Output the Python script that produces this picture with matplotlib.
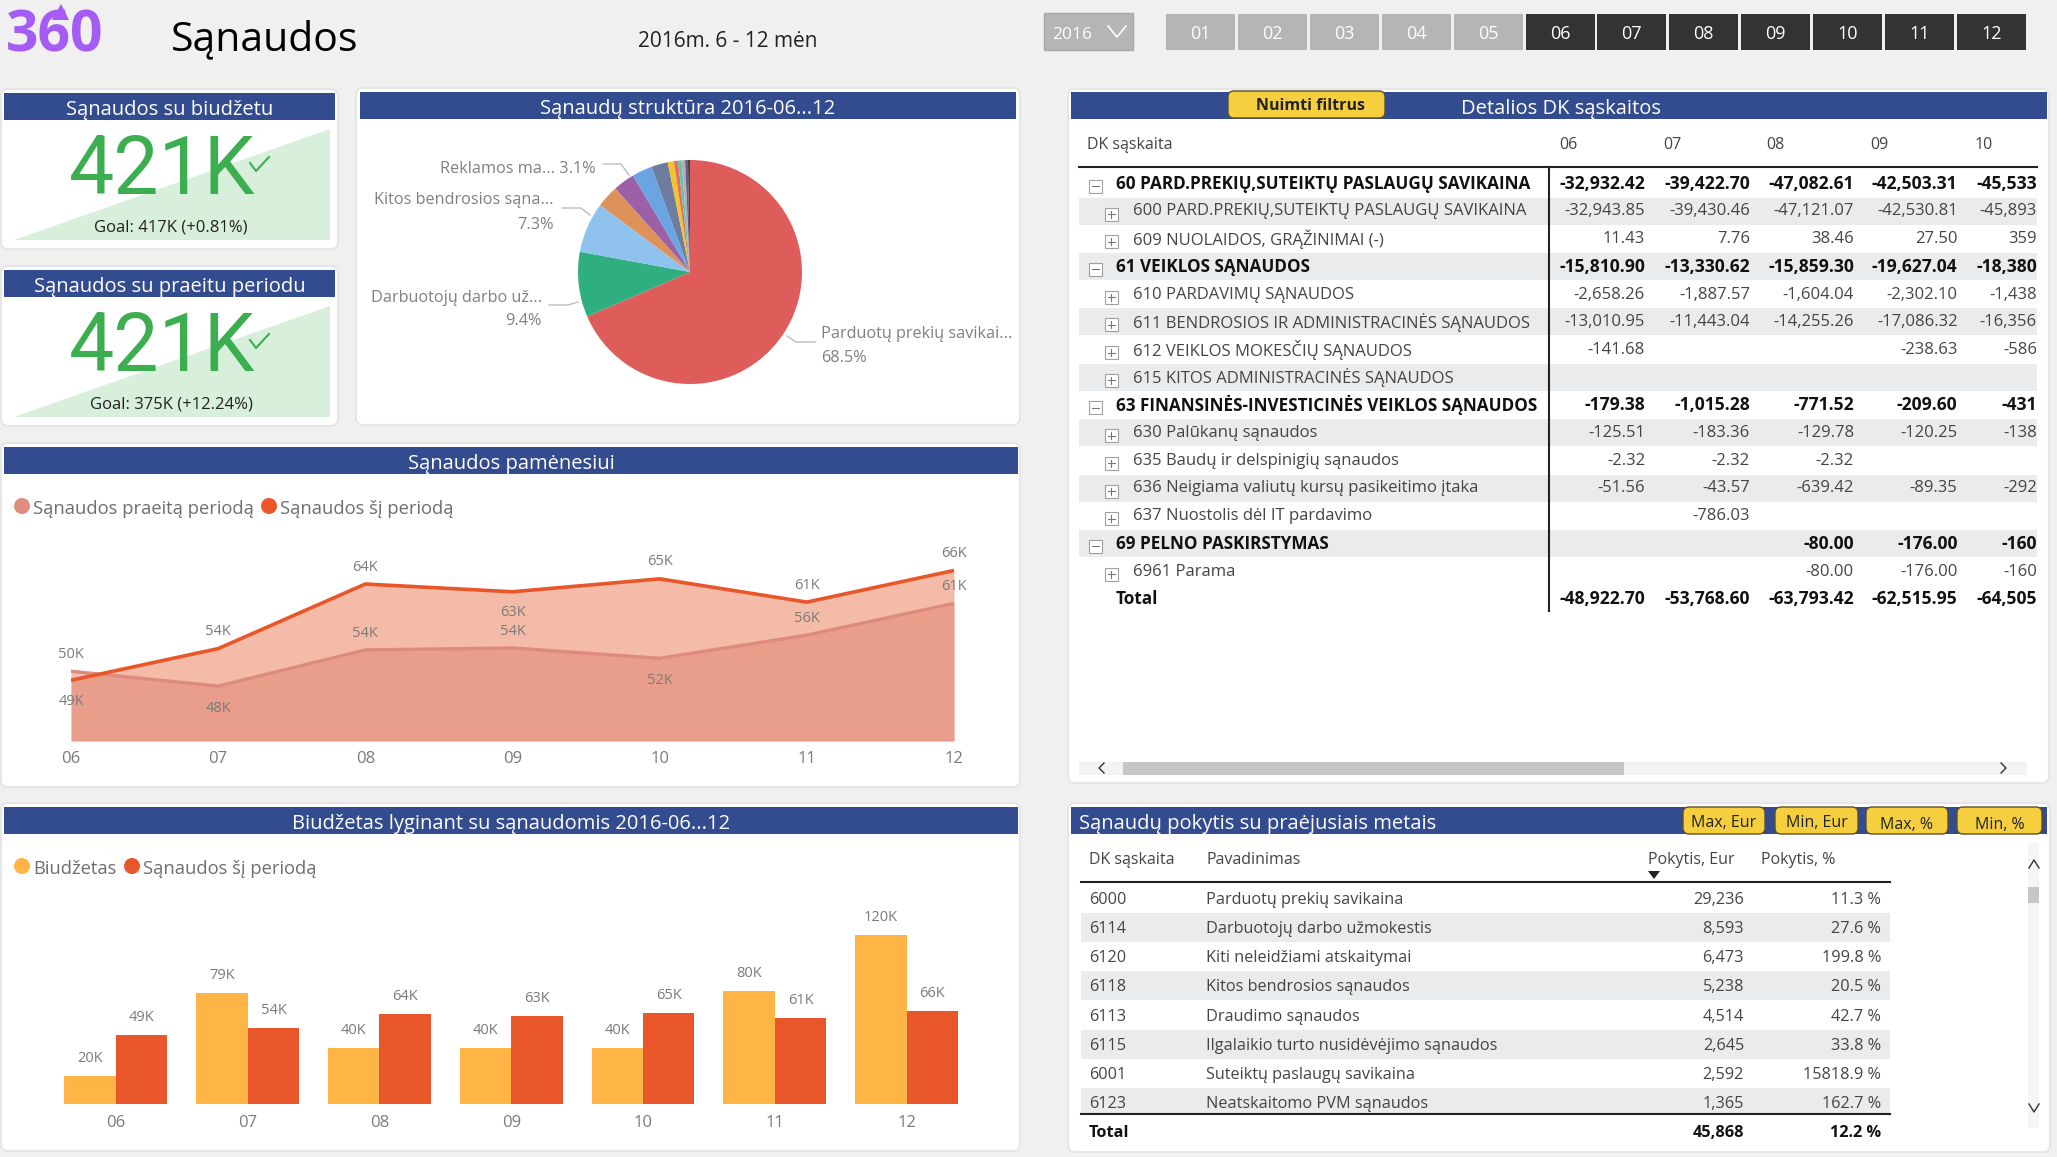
import matplotlib
matplotlib.use('Agg')
import matplotlib.pyplot as plt
from matplotlib.patches import FancyBboxPatch, Rectangle, Circle, Polygon

W, H = 2057, 1157
FONT = 'Open Sans'
BLUE = '#334B8F'
GREY_TXT = '#7A7A7A'
DARK_TXT = '#333333'
YELLOW = '#F6CF3F'

months = ['06', '07', '08', '09', '10', '11', '12']
all_months = ['01', '02', '03', '04', '05', '06', '07', '08', '09', '10', '11', '12']
active_months = ['06', '07', '08', '09', '10', '11', '12']

# pie
pie_names = ['Parduotų prekių savikaina', 'Darbuotojų darbo užmokestis', 'Kitos bendrosios sąnaudos',
             'Kita 1', 'Reklamos marketingas', 'Kita 2', 'Kita 3', 'Kita 4', 'Kita 5', 'Kita 6', 'Kita 7', 'Kita 8',
             'Kita 9']
pie_values = [68.5, 9.4, 7.3, 3.2, 3.1, 2.9, 2.4, 0.9, 0.6, 0.5, 0.5, 0.4, 0.3]
pie_colors = ['#DE5C5A', '#2FAF80', '#8FC3EE', '#DE9159', '#9B60A6', '#6BA4E3', '#6C7DA0', '#F2C230',
              '#E2725B', '#5FC4B8', '#B0B0B0', '#6D5A8C', '#444444']

# monthly area chart
cost_now = [48.9, 53.8, 63.8, 62.6, 64.6, 61.0, 65.9]
cost_prev = [50.3, 48.0, 53.6, 53.9, 52.3, 55.9, 60.8]
# budget bars
budget = [20, 79, 40, 40, 40, 80, 120]

# detail table
dk_labels = ['60 PARD.PREKIŲ,SUTEIKTŲ PASLAUGŲ SAVIKAINA', '600 PARD.PREKIŲ,SUTEIKTŲ PASLAUGŲ SAVIKAINA',
             '609 NUOLAIDOS, GRĄŽINIMAI (-)', '61 VEIKLOS SĄNAUDOS', '610 PARDAVIMŲ SĄNAUDOS',
             '611 BENDROSIOS IR ADMINISTRACINĖS SĄNAUDOS', '612 VEIKLOS MOKESČIŲ SĄNAUDOS',
             '615 KITOS ADMINISTRACINĖS SĄNAUDOS', '63 FINANSINĖS-INVESTICINĖS VEIKLOS SĄNAUDOS',
             '630 Palūkanų sąnaudos', '635 Baudų ir delspinigių sąnaudos', '636 Neigiama valiutų kursų pasikeitimo įtaka',
             '637 Nuostolis dėl IT pardavimo', '69 PELNO PASKIRSTYMAS', '6961 Parama', 'Total']
dk_bold = [1, 0, 0, 1, 0, 0, 0, 0, 1, 0, 0, 0, 0, 1, 0, 2]
dk_06 = ['-32,932.42', '-32,943.85', '11.43', '-15,810.90', '-2,658.26', '-13,010.95', '-141.68', '', '-179.38',
         '-125.51', '-2.32', '-51.56', '', '', '', '-48,922.70']
dk_07 = ['-39,422.70', '-39,430.46', '7.76', '-13,330.62', '-1,887.57', '-11,443.04', '', '', '-1,015.28',
         '-183.36', '-2.32', '-43.57', '-786.03', '', '', '-53,768.60']
dk_08 = ['-47,082.61', '-47,121.07', '38.46', '-15,859.30', '-1,604.04', '-14,255.26', '', '', '-771.52',
         '-129.78', '-2.32', '-639.42', '', '-80.00', '-80.00', '-63,793.42']
dk_09 = ['-42,503.31', '-42,530.81', '27.50', '-19,627.04', '-2,302.10', '-17,086.32', '-238.63', '', '-209.60',
         '-120.25', '', '-89.35', '', '-176.00', '-176.00', '-62,515.95']
dk_10 = ['-45,533', '-45,893', '359', '-18,380', '-1,438', '-16,356', '-586', '', '-431',
         '-138', '', '-292', '', '-160', '-160', '-64,505']

# change table
ch_codes = ['6000', '6114', '6120', '6118', '6113', '6115', '6001', '6123']
ch_names = ['Parduotų prekių savikaina', 'Darbuotojų darbo užmokestis', 'Kiti neleidžiami atskaitymai',
            'Kitos bendrosios sąnaudos', 'Draudimo sąnaudos', 'Ilgalaikio turto nusidėvėjimo sąnaudos',
            'Suteiktų paslaugų savikaina', 'Neatskaitomo PVM sąnaudos']
ch_eur = ['29,236', '8,593', '6,473', '5,238', '4,514', '2,645', '2,592', '1,365']
ch_pct = ['11.3 %', '27.6 %', '199.8 %', '20.5 %', '42.7 %', '33.8 %', '15818.9 %', '162.7 %']

fig = plt.figure(figsize=(W / 100, H / 100), dpi=100, facecolor='#F0F0F0')
bg = fig.add_axes([0, 0, 1, 1])
bg.set_xlim(0, W)
bg.set_ylim(H, 0)
bg.axis('off')


def add_ax(x0, y0, x1, y1):
    ax = fig.add_axes([x0 / W, 1 - y1 / H, (x1 - x0) / W, (y1 - y0) / H])
    ax.patch.set_alpha(0)
    return ax


def txt(x, y, s, size=11.5, color=DARK_TXT, ha='left', weight='normal', family=FONT):
    # va center sits a bit high for this font, so push down with the size
    bg.text(x, y + size * 0.16, s, fontsize=size, color=color, ha=ha, va='center', fontweight=weight, family=family)


def panel(x0, y0, x1, y1):
    bg.add_patch(FancyBboxPatch((x0 + 5, y0 + 5), x1 - x0 - 10, y1 - y0 - 10, boxstyle='round,pad=5,rounding_size=7',
                                fc='white', ec='#E6E6E6', lw=1.5))


def header(x0, y0, x1, y1, title, title_x=None):
    bg.add_patch(Rectangle((x0, y0), x1 - x0, y1 - y0, fc=BLUE, ec='none'))
    if title_x is None:
        txt((x0 + x1) / 2, (y0 + y1) / 2 + 1, title, 14.5, 'white', 'center')
    else:
        txt(title_x, (y0 + y1) / 2 + 1, title, 14.5, 'white', 'left')


def button(x0, y0, x1, y1, s, weight='normal', text_y=None, text_x=None):
    bg.add_patch(FancyBboxPatch((x0 + 5, y0 + 4), x1 - x0 - 10, y1 - y0 - 8, boxstyle='round,pad=4,rounding_size=6',
                                fc=YELLOW, ec='#5A5030', lw=1))
    txt(text_x or (x0 + x1) / 2, text_y or (y0 + y1) / 2, s, 11.5, '#222222', 'center', weight)


def legend_item(x, y, s, color):
    bg.add_patch(Circle((x, y), 8, fc=color, ec='none'))
    txt(x + 11, y + 1, s, 13.2, '#6E6E6E')


# top strip
txt(6, 30, '360', 41, '#A45CF5', weight='bold')
bg.add_patch(Polygon([[52, 20], [69, 20], [61, 4]], fc='#A45CF5', ec='none'))
txt(171, 35, 'Sąnaudos', 29.5, 'black')
txt(728, 39, '2016m. 6 - 12 mėn', 15, '#222222', 'center')

bg.add_patch(Rectangle((1044, 13), 89, 37, fc='#B5B5B5', ec='#A8A8A8', lw=1))
txt(1052, 33, '2016', 12.5, 'white')
bg.plot([1108, 1117, 1126], [26, 37, 26], color='white', lw=1.2)
for i, m in enumerate(all_months):
    x = 1166 + i * 71.9
    c = '#333333' if m in active_months else '#B5B5B5'
    bg.add_patch(Rectangle((x, 14), 69, 36, fc=c, ec='none'))
    txt(x + 34.5, 32, m, 13, 'white', 'center')

# KPI cards
for y_off, title, goal in [(0, 'Sąnaudos su biudžetu', 'Goal: 417K (+0.81%)'),
                           (177, 'Sąnaudos su praeitu periodu', 'Goal: 375K (+12.24%)')]:
    panel(1, 89 + y_off, 338, 249 + y_off)
    header(4, 93 + y_off, 335, 120 + y_off, title)
    bg.add_patch(Polygon([[14, 240 + y_off], [330, 240 + y_off], [330, 129 + y_off]], fc='#D7EFDB', ec='none'))
    bg.text(162, 172 + y_off, '421K', fontsize=58, color='#3DAE50', ha='center', va='center', family='Roboto')
    bg.plot([250, 256, 269], [163 + y_off, 171 + y_off, 157 + y_off], color='#3DAE50', lw=1.5)
    txt(171, 226 + y_off, goal, 12, '#222222', 'center')

# pie
panel(356, 88, 1020, 425)
header(360, 92, 1016, 119, 'Sąnaudų struktūra 2016-06...12')
ax_pie = add_ax(578, 160, 802, 384)
ax_pie.pie(pie_values, colors=pie_colors, startangle=90, counterclock=False, radius=1,
           wedgeprops=dict(edgecolor='none'))
ax_pie.set_xlim(-1, 1)
ax_pie.set_ylim(-1, 1)

txt(596, 167, 'Reklamos ma... 3.1%', 11.7, '#808080', 'right')
txt(554, 198, 'Kitos bendrosios sąna...', 11.7, '#808080', 'right')
txt(554, 223, '7.3%', 11.7, '#808080', 'right')
txt(542, 296, 'Darbuotojų darbo už...', 11.7, '#808080', 'right')
txt(542, 319, '9.4%', 11.7, '#808080', 'right')
txt(821, 332, 'Parduotų prekių savikai...', 11.7, '#808080')
txt(821, 356, '68.5%', 11.7, '#808080')
for xs, ys in [([603, 621, 629], [164, 164, 175]), ([562, 581, 590], [208, 208, 215]),
               ([549, 568, 578], [305, 305, 302]), ([815, 796, 787], [342, 342, 336])]:
    bg.plot(xs, ys, color='#BDBDBD', lw=1)

# area chart
panel(1, 443, 1020, 787)
header(4, 447, 1018, 474, 'Sąnaudos pamėnesiui')
legend_item(22, 506, 'Sąnaudos praeitą periodą', '#E08D80')
legend_item(269, 506, 'Sąnaudos šį periodą', '#E8562A')
ax_line = add_ax(71, 541, 954, 741)
xpos = list(range(len(months)))
ax_line.fill_between(xpos, 39.5, cost_now, color='#E8562A', alpha=0.4, lw=0)
ax_line.fill_between(xpos, 39.5, cost_prev, color='#DE826E', alpha=0.5, lw=0)
ax_line.plot(xpos, cost_prev, color='#DE8A7C', lw=2.4, solid_capstyle='butt')
ax_line.plot(xpos, cost_now, color='#E8562A', lw=2.6, solid_capstyle='butt')
ax_line.set_xlim(0, 6)
ax_line.set_ylim(39.5, 39.5 + 200 / 6.46)
ax_line.set_yticks([])
ax_line.set_xticks(xpos, months, fontsize=12, color=GREY_TXT, family=FONT)
ax_line.tick_params(axis='x', length=0, pad=7)
for s in ax_line.spines.values():
    s.set_visible(False)
now_dy = [21, -17, -17, 21, -17, -17, -17]
prev_dy = [-17, 22, -16, -16, 22, -17, -17]
for i in xpos:
    ax_line.annotate(f'{round(cost_now[i])}K', (i, cost_now[i]), xytext=(0, -now_dy[i] * 0.72), textcoords='offset points',
                     ha='center', va='center', fontsize=10.5, color=GREY_TXT, family=FONT, annotation_clip=False)
    ax_line.annotate(f'{round(cost_prev[i])}K', (i, cost_prev[i]), xytext=(0, -prev_dy[i] * 0.72), textcoords='offset points',
                     ha='center', va='center', fontsize=10.5, color=GREY_TXT, family=FONT, annotation_clip=False)

# bar chart
panel(1, 803, 1020, 1151)
header(4, 807, 1018, 834, 'Biudžetas lyginant su sąnaudomis 2016-06...12')
legend_item(22, 866, 'Biudžetas', '#FFB545')
legend_item(132, 866, 'Sąnaudos šį periodą', '#E8562A')
ax_bar = add_ax(50, 894, 972.5, 1104)
bw = 0.39
b1 = ax_bar.bar([i - bw / 2 for i in xpos], budget, bw, color='#FFB545')
b2 = ax_bar.bar([i + bw / 2 for i in xpos], cost_now, bw, color='#E8562A')
ax_bar.set_xlim(-0.5, 6.5)
ax_bar.set_ylim(0, 210 / 1.41)
ax_bar.set_yticks([])
ax_bar.set_xticks(xpos, months, fontsize=12, color=GREY_TXT, family=FONT)
ax_bar.tick_params(axis='x', length=0, pad=8)
for s in ax_bar.spines.values():
    s.set_visible(False)
for bars in (b1, b2):
    ax_bar.bar_label(bars, labels=[f'{round(b.get_height())}K' for b in bars], padding=7, fontsize=10.5,
                     color=GREY_TXT, family=FONT)

# detail table
panel(1068, 89, 2049, 783)
header(1071, 92, 2047, 119, '')
txt(1561, 106.5, 'Detalios DK sąskaitos', 14.5, 'white', 'center')
button(1227, 91, 1386, 118, 'Nuimti filtrus', 'bold', text_x=1310)
txt(1087, 143, 'DK sąskaita', 11.5, '#444444')
dk_cols = [dk_06, dk_07, dk_08, dk_09, dk_10]
col_right = [1645, 1750, 1854, 1957.5, 2037]
for m, x in zip(months, [1559, 1663, 1766, 1870, 1975]):
    txt(x, 143, m, 11.5, '#444444')
bg.plot([1079, 2037], [167, 167], color='#222222', lw=1.5)
for r, label in enumerate(dk_labels):
    y = 183.3 + r * 27.7
    if r % 2 == 1 and r < 15:
        bg.add_patch(Rectangle((1079, y - 13.5), 958, 27, fc='#E9EBED', ec='none'))
    bold = dk_bold[r]
    if bold == 0:
        bx = 1111
        txt(1133, y - 1.5, label, 12, '#444444')
    else:
        bx = 1095
        txt(1116, y - 1.5, label, 12.3, '#111111', weight='bold')
    if bold != 2:
        bg.add_patch(Rectangle((bx - 6.5, y - 3.5), 13, 13, fc='white', ec='#A0A0A0', lw=0.8))
        bg.plot([bx - 3.5, bx + 3.5], [y + 3, y + 3], color='#777777', lw=0.8)
        if bold == 0:
            bg.plot([bx, bx], [y - 0.5, y + 6.5], color='#777777', lw=0.8)
    for col, x in zip(dk_cols, col_right):
        if col[r]:
            txt(x, y - 1.5, col[r], 12.6 if bold else 12, '#111111' if bold else '#444444', 'right',
                'bold' if bold else 'normal')
bg.plot([1549, 1549], [167, 611], color='#222222', lw=1.5, zorder=3)
bg.add_patch(Rectangle((1079, 762), 948, 13, fc='#F3F3F3', ec='none'))
bg.add_patch(Rectangle((1123, 762), 501, 13, fc='#C6C6C6', ec='none'))
bg.plot([1104, 1099, 1104], [763, 768, 773], color='#333333', lw=1)
bg.plot([2001, 2006, 2001], [763, 768, 773], color='#333333', lw=1)

# change table
panel(1068, 803, 2050, 1152)
header(1071, 807, 2047, 834, 'Sąnaudų pokytis su praėjusiais metais', title_x=1079)
button(1682, 807, 1766, 834, 'Max, Eur', text_y=821)
button(1774, 807, 1859, 834, 'Min, Eur', text_y=821)
button(1865, 807, 1949, 834, 'Max, %', text_y=823)
button(1956, 807, 2043, 834, 'Min, %', text_y=823)
txt(1089, 858, 'DK sąskaita', 11.5, '#444444')
txt(1206, 858, 'Pavadinimas', 11.5, '#444444')
txt(1648, 858, 'Pokytis, Eur', 11.5, '#444444')
txt(1761, 858, 'Pokytis, %', 11.5, '#444444')
bg.add_patch(Polygon([[1648, 871], [1660, 871], [1654, 879]], fc='#222222', ec='none'))
bg.plot([1081, 1890], [882, 882], color='#222222', lw=1.5)
for r, code in enumerate(ch_codes):
    y = 898 + r * 29.2
    if r % 2 == 1:
        bg.add_patch(Rectangle((1081, y - 14.5), 809, 29 if r < 7 else 25, fc='#E9EBED', ec='none'))
    txt(1089, y, code, 11.7, '#444444')
    txt(1206, y, ch_names[r], 11.7, '#444444')
    txt(1744, y, ch_eur[r], 11.7, '#444444', 'right')
    txt(1881, y, ch_pct[r], 11.7, '#444444', 'right')
bg.plot([1081, 1890], [1114, 1114], color='#222222', lw=1.5)
txt(1089, 1131, 'Total', 11.7, '#111111', weight='bold')
txt(1744, 1131, '45,868', 11.7, '#111111', 'right', 'bold')
txt(1881, 1131, '12.2 %', 11.7, '#111111', 'right', 'bold')
bg.add_patch(Rectangle((2028, 843), 11, 285, fc='#F5F5F5', ec='none'))
bg.add_patch(Rectangle((2028, 887), 11, 16, fc='#C6C6C6', ec='none'))
bg.plot([2029, 2034, 2039], [868, 860, 868], color='#333333', lw=1)
bg.plot([2029, 2034, 2039], [1104, 1112, 1104], color='#333333', lw=1)

fig.savefig('out.png', dpi=100, facecolor=fig.get_facecolor())
